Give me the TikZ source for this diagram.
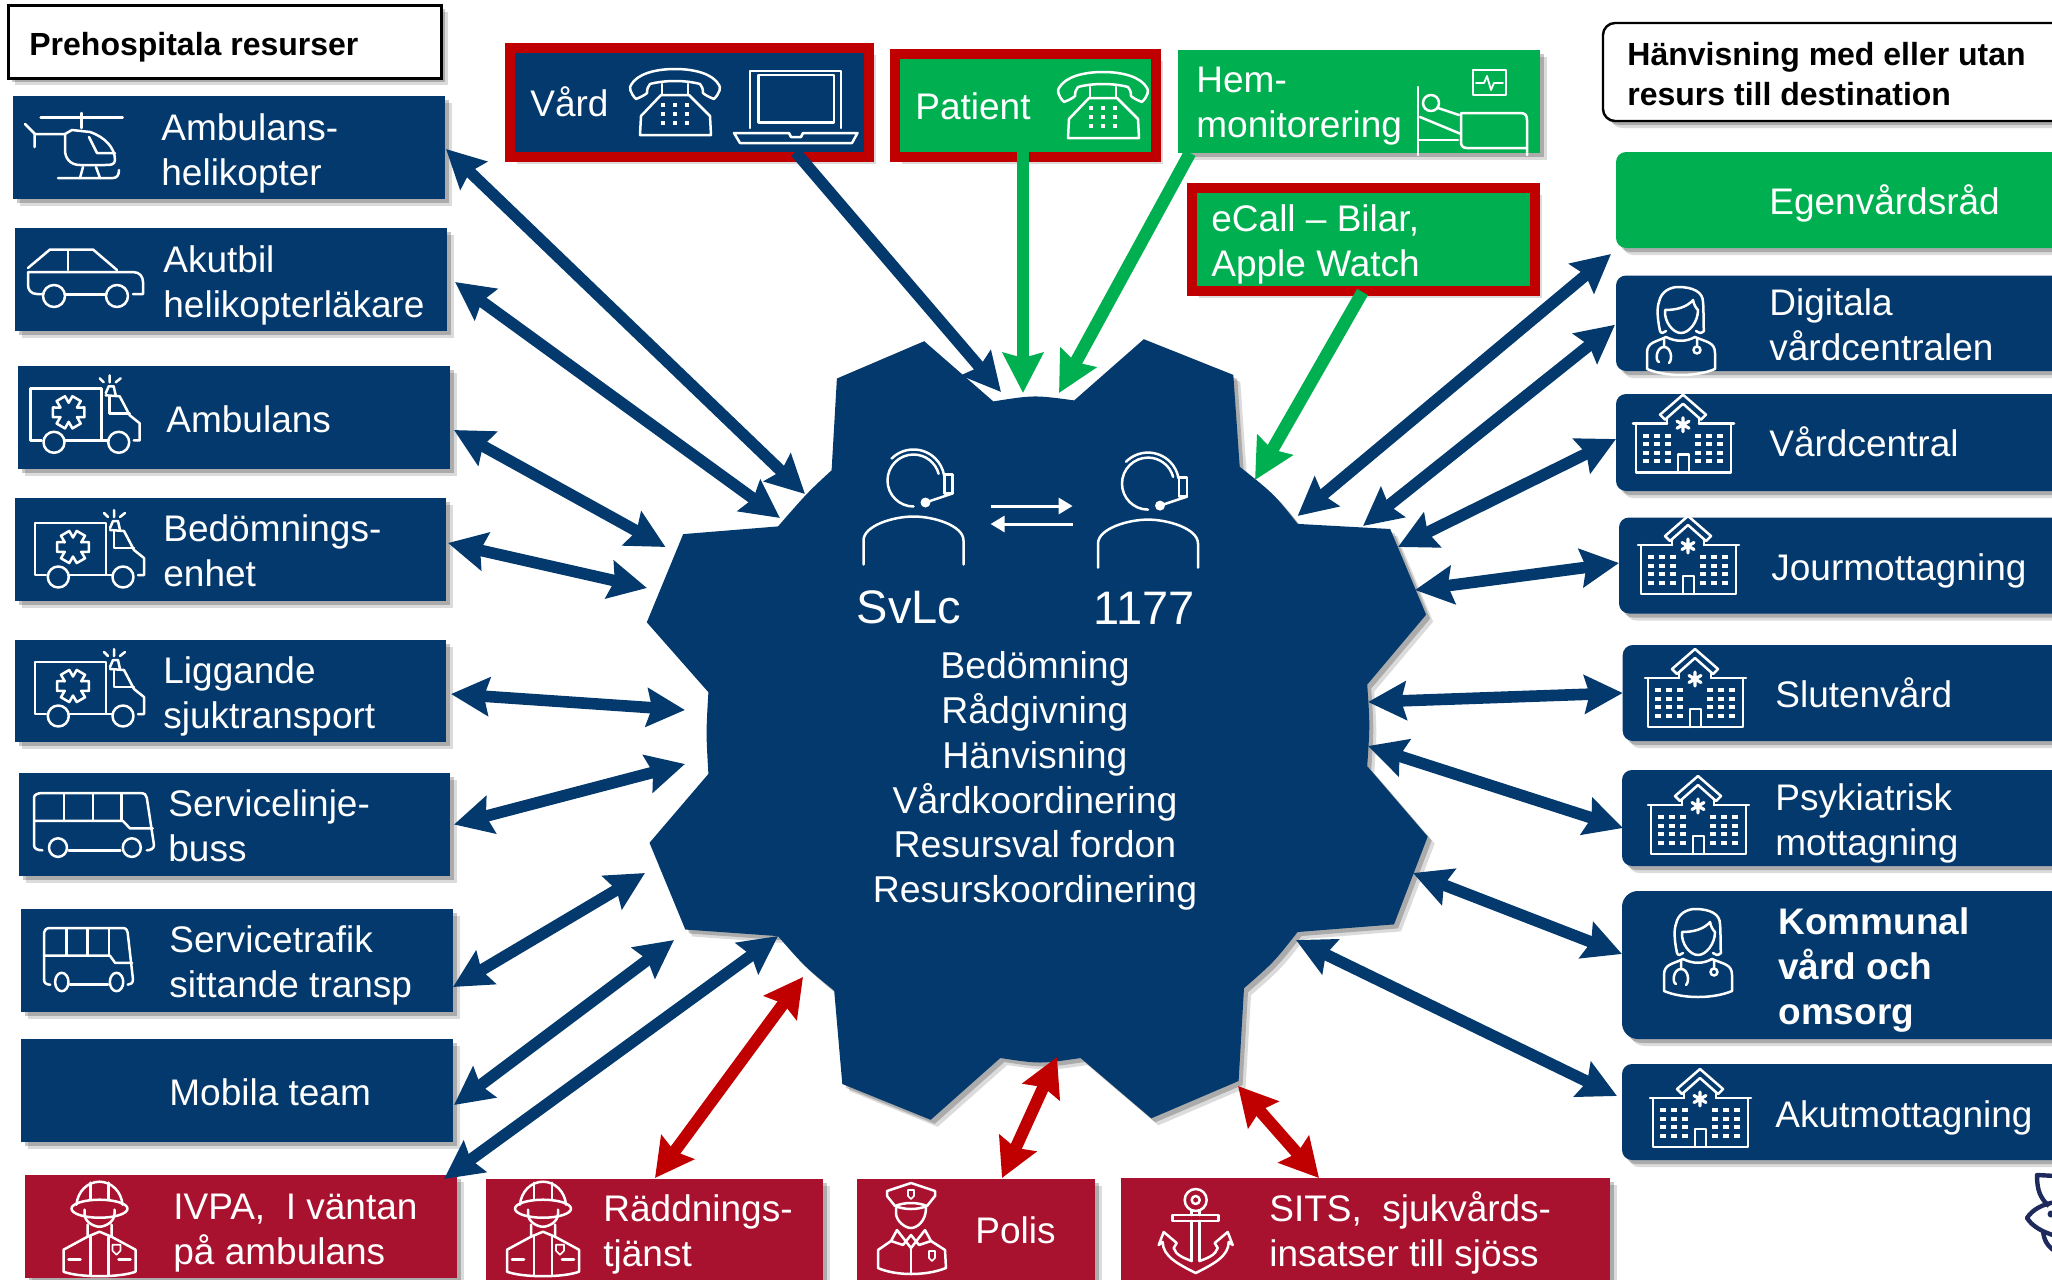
\documentclass[tikz,border=0pt]{standalone}
\usepackage{fontspec}
\setmainfont{Liberation Sans}
\usetikzlibrary{arrows.meta,fit,shadows}
\definecolor{navy}{HTML}{03396C}
\definecolor{grn}{HTML}{00B050}
\definecolor{rd}{HTML}{C00000}
\definecolor{burg}{HTML}{A9122F}
\definecolor{logoc}{HTML}{1F2A5C}
\tikzset{
 softshadow/.style={general shadow={shadow xshift=2pt,shadow yshift=-2pt,fill=black,opacity=.22},
                    general shadow={shadow xshift=3.5pt,shadow yshift=-3.5pt,fill=black,opacity=.14}},
 navybox/.style={fill=navy,softshadow},
 navyround/.style={fill=navy,rounded corners=5pt,softshadow},
 grnbox/.style={fill=grn,softshadow},
 grnround/.style={fill=grn,rounded corners=5pt,softshadow},
 burgbox/.style={fill=burg,softshadow},
 redframe/.style={draw=rd,line width=5pt,softshadow},
 titlebox/.style={fill=white,draw=black,line width=1.5pt,softshadow},
 lbl/.style={text=white,anchor=west,align=left,inner sep=0pt,font=\fontsize{18.5}{22.5}\selectfont},
 lblb/.style={text=black,anchor=west,align=left,inner sep=0pt,font=\fontsize{16}{19.6}\selectfont\bfseries},
 ico/.style={draw=white,line width=1.25pt,line join=round,line cap=round},
 bi/.style={draw=navy,line width=5.8pt,{Stealth[length=19pt,width=19pt,inset=2.5pt]}-{Stealth[length=19pt,width=19pt,inset=2.5pt]}},
 bired/.style={draw=rd,line width=6pt,{Stealth[length=19pt,width=20pt,inset=2.5pt]}-{Stealth[length=19pt,width=20pt,inset=2.5pt]}},
 onenavy/.style={draw=navy,line width=5.8pt,-{Stealth[length=19pt,width=19pt,inset=2.5pt]}},
 onegrn/.style={draw=grn,line width=6.3pt,-{Stealth[length=20pt,width=20pt,inset=2.5pt]}},
 hosp/.pic={
  \draw[ico] (0,0) -- (34,0) (66,0) -- (101,0);
  \draw[ico] (3,0) -- (3,49) -- (98,49) -- (98,0);
  \draw[ico] (45,49) -- (45,31) -- (56,31) -- (56,49);
  \draw[ico] (27,-9) -- (50,-29) -- (73,-9) -- (68,-4) -- (50,-20) -- (32,-4) -- cycle;
  \draw[ico] (34,-5) -- (34,0) (66,-5) -- (66,0);
  \draw[ico,line width=1.6pt] (50,-6) -- (50,8) (44,-2.5) -- (56,4.5) (44,4.5) -- (56,-2.5);
  \foreach \x in {13,24,35,65,76,87}\foreach \y in {12,20.5,29,37.5}
    \fill[white] (\x-2.7,\y-2) rectangle (\x+2.7,\y+2);
 },
 nurse/.pic={
  \draw[ico] (-15,44) .. controls (-17,46) and (-20,47) .. (-21,44) .. controls (-24,30) and (-24,20) .. (-22,15) .. controls (-20,4) and (-10,0) .. (-3,0) .. controls (12,0) and (22,5) .. (22,15) .. controls (23,25) and (22,35) .. (23,44) .. controls (20,47) and (17,46) .. (15,44);
  \draw[ico] (-16,23) .. controls (-4,23) and (6,20) .. (12,13) .. controls (13,18) and (15,21) .. (17,23) .. controls (17,35) and (8,46) .. (0,46) .. controls (-8,46) and (-17,35) .. (-16,23) -- cycle;
  \draw[ico] (-15,50) .. controls (-25,55) and (-34,55) .. (-34,66) -- (-34,82) .. controls (-15,90) and (15,90) .. (34,82) -- (34,66) .. controls (34,55) and (25,55) .. (14,50);
  \draw[ico] (-15,50) .. controls (-5,55) and (5,55) .. (14,50);
  \draw[ico] (-17,52) -- (-17,60) (-22,75) .. controls (-26,74) and (-25,60) .. (-17,60) .. controls (-10,60) and (-8,72) .. (-12,76);
  \draw[ico] (16,52) -- (16,59) (16,63) circle[radius=3.5];
 },
 agent/.pic={
  \draw[ico] (0,26) arc[start angle=90,end angle=345,radius=26];
  \draw[ico] (225:31) arc[start angle=225,end angle=350,radius=31];
  \draw[ico] (31,-6) rectangle (39,13);
  \draw[ico] (39,13) -- (12,22);
  \fill[white] (12,22) circle[radius=5];
  \draw[ico] (-50,84) -- (-50,60) .. controls (-50,45) and (-20,36) .. (0,36) .. controls (20,36) and (50,45) .. (50,60) -- (50,84);
 },
 ambul/.pic={
  \draw[ico] (11,52) -- (0,52) -- (0,0) -- (71,0) -- (71,52) -- (34,52);
  \draw[ico] (23.3,54) circle[radius=10.5] (88,54) circle[radius=10.5];
  \draw[ico] (71,52) -- (77,52);
  \draw[ico] (75,7) -- (89,8) -- (99,27) -- (109,35) -- (109,52) -- (103,52);
  \draw[ico] (79,8) -- (79,25) -- (99,25);
  \draw[ico] (75,5) -- (78,-2) -- (83,-2) -- (85,7);
  \draw[ico] (69,-10) -- (73,-6) (79,-13) -- (79,-6) (90,-10) -- (85,-6);
  \begin{scope}[shift={(38,24)}]
   \draw[ico] (-17:16.5) \foreach \a in {0,60,...,300} { -- (\a-17:16.5) -- (\a+17:16.5) -- (\a+30:9.5)} -- cycle;
  \end{scope}
 },
 bussicon/.pic={
  \draw[ico] (0,56) -- (0,5) .. controls (0,2) and (3,0) .. (7,0) -- (88,0) .. controls (92,0) and (94,2) .. (94,5) -- (100,56) .. controls (100,60) and (97,61.6) .. (94,61.6);
  \draw[ico] (0,56) .. controls (0,60) and (3,61.6) .. (7,61.6);
  \draw[ico] (0,30) -- (74,30) -- (80,38) -- (99,38);
  \draw[ico] (25,1) -- (25,30) (49,1) -- (49,30) (73,1) -- (73,30);
  \draw[ico] (20,58.7) ellipse[x radius=7.5,y radius=10] (81.5,58.7) ellipse[x radius=7.5,y radius=10];
  \draw[ico] (29,61.6) -- (72,61.6);
 },
 fire/.pic={
  \draw[ico] (-23,23) .. controls (-22,10) and (-12,0) .. (0,0) .. controls (12,0) and (22,10) .. (23,23);
  \draw[ico] (-9,1) -- (-9,18) (9,1) -- (9,18);
  \draw[ico] (0,27) ellipse[x radius=28,y radius=9];
  \draw[ico] (-15,28) -- (-15,32) .. controls (-15,40) and (-6,45) .. (0,45) .. controls (6,45) and (15,40) .. (15,32) -- (15,28);
  \draw[ico] (-12,43) -- (-12,55) -- (-36,68) -- (-36,90) .. controls (-20,96) and (20,96) .. (36,90) -- (36,68) -- (12,55) -- (12,43);
  \draw[ico] (-12,55) -- (0,50) -- (12,55);
  \draw[ico] (-9,55) -- (-9,94) (9,55) -- (9,94);
  \draw[ico] (-31,78) -- (-19,78) (19,78) -- (31,78);
  \draw[ico,line width=.8pt] (13,63) -- (21,63) -- (21,69) -- (17,73) -- (13,69) -- cycle;
 },
 police/.pic={
  \draw[ico] (0,0) -- (24,8) -- (24,13) -- (16,23) .. controls (6,27) and (-6,27) .. (-16,23) -- (-24,13) -- (-24,8) -- cycle;
  \draw[ico] (-16,23) .. controls (-6,19) and (6,19) .. (16,23);
  \draw[ico,line width=.8pt] (-3,7) -- (3,7) -- (3,13) -- (0,16) -- (-3,13) -- cycle;
  \draw[ico] (-15,25) -- (-15,30) .. controls (-15,38) and (-6,45) .. (0,45) .. controls (6,45) and (15,38) .. (15,25);
  \draw[ico] (-14,47) -- (0,65) -- (14,47) (-14,47) -- (-20,58) -- (-8,62) -- (0,52) -- (8,62) -- (20,58) -- (14,47);
  \draw[ico] (-20,58) -- (-33,67) -- (-33,85) .. controls (-15,93) and (15,93) .. (35,85) -- (34,67) -- (20,58);
  \draw[ico] (0,65) -- (0,90);
  \draw[ico,line width=.8pt] (18,68) -- (24,68) -- (24,75) -- (21,78) -- (18,75) -- cycle;
 },
 anchoricon/.pic={
  \draw[ico] (0,10) circle[radius=11] (0,10) circle[radius=4];
  \draw[ico] (-23,25) rectangle (23,31);
  \draw[ico] (-4,21) -- (-4,25) (4,21) -- (4,25) (-4,31) -- (-4,71) (4,31) -- (4,71);
  \draw[ico] (-4,71) .. controls (-12,68) and (-20,65) .. (-22,58) -- (-19,53) -- (-32,42) -- (-37,55) -- (-33,52) .. controls (-33,66) and (-18,74) .. (0,83) .. controls (18,74) and (33,66) .. (33,52) -- (37,55) -- (32,42) -- (19,53) -- (22,58) .. controls (20,65) and (12,68) .. (4,71);
 },
 phone/.pic={
  \draw[ico] (-39,30) .. controls (-45,24) and (-46,18) .. (-44,16) .. controls (-38,5) and (-20,0) .. (0,0) .. controls (20,0) and (38,5) .. (44,16) .. controls (46,18) and (45,24) .. (39,30) .. controls (34,28) and (30,26) .. (28,24) .. controls (28,20) and (27,17) .. (25,15) .. controls (10,11) and (-10,11) .. (-25,15) .. controls (-27,17) and (-28,20) .. (-28,24) .. controls (-30,26) and (-34,28) .. (-39,30) -- cycle;
  \draw[ico] (-13,15) -- (-13,26) (13,15) -- (13,26);
  \draw[ico] (-35,66) -- (36,66) -- (35,47) -- (14,26) -- (-14,26) -- (-34,47) -- cycle;
  \foreach \x in {-12,0,12}\foreach \y in {36,45,54}
    \fill[white] (\x-2,\y-2.2) rectangle (\x+2,\y+2.2);
 }
}
% box: name, style, x1, y1, x2, y2, text x, text y, text
\newcommand\bx[9]{\node[#2,fit={(#3,#4)(#5,#6)},inner sep=0pt,outer sep=0pt] (#1) {};
  \node[lbl] (#1T) at (#7,#8) {#9};}
\begin{document}
\begin{tikzpicture}[x=0.5pt,y=-0.5pt]
\useasboundingbox (0,0) rectangle (2052,1280);
\clip (0,0) rectangle (2052,1280);

% central gear
\path[fill=navy,softshadow] (924.2,341.2) -- (836.9,378.5) -- (831.6,470.3)
 .. controls (808,492) .. (778,526.4) -- (683.2,534.1) -- (646.8,622.3) -- (708.4,692.2)
 .. controls (706,733) .. (708.4,773.9) -- (649.5,842.8) -- (685.3,929.5) -- (778,936.1)
 .. controls (804,966) .. (834.2,990.7) -- (842.3,1084) -- (930.7,1119.8) -- (1000.3,1058)
 .. controls (1040,1064) .. (1080.6,1058) -- (1151.3,1118.3) -- (1238.6,1081) -- (1244,988.2)
 .. controls (1274,962) .. (1297.6,932) -- (1394,924.4) -- (1427.7,836.6) -- (1367.2,766.2)
 .. controls (1370,725) .. (1367.2,684.6) -- (1426.1,614.7) -- (1390.2,529) -- (1297.6,523.9)
 .. controls (1274,494) .. (1239.7,466.7) -- (1233.3,374.9) -- (1143.8,339.2) -- (1074.2,400.4)
 .. controls (1034,395) .. (993.3,401.4) -- cycle;

% hub ports (named free ends)
\coordinate (h1) at (805,494);
\coordinate (h2) at (780,518);
\coordinate (h3) at (665.5,547);
\coordinate (h4) at (647,588);
\coordinate (h5) at (685,710);
\coordinate (h6) at (685,764);
\coordinate (h7) at (645,873);
\coordinate (h8) at (674,940);
\coordinate (h9) at (778,936);
\coordinate (h10) at (803,977);
\coordinate (h11) at (1057,1057);
\coordinate (h12) at (1238,1086);
\coordinate (t1) at (1001,392);
\coordinate (t2) at (1023,393);
\coordinate (t3) at (1059,393);
\coordinate (t4) at (1255,480);
\coordinate (r1) at (1297.6,516);
\coordinate (r2) at (1363,526);
\coordinate (r3) at (1398,547);
\coordinate (r4) at (1415,590);
\coordinate (r5) at (1368,702);
\coordinate (r6) at (1368,746);
\coordinate (r7) at (1413,873);
\coordinate (r8) at (1296,940);

% central texts and icons
\pic at (913.5,480.5) {agent};
\pic at (1148,483.6) {agent};
\coordinate (sw1) at (990.6,506);
\coordinate (sw2) at (1072.6,506);
\coordinate (sw3) at (1072.6,524);
\coordinate (sw4) at (990.6,524);
\draw[draw=white,line width=1.5pt,-{Triangle[length=7pt,width=8pt]}] (sw1) -- (sw2);
\draw[draw=white,line width=1.5pt,-{Triangle[length=7pt,width=8pt]}] (sw3) -- (sw4);
\node[text=white,inner sep=0pt,font=\fontsize{23.5}{27}\selectfont] (svlc) at (909,607) {SvLc};
\node[text=white,inner sep=0pt,font=\fontsize{23.5}{27}\selectfont] (n1177) at (1144,608) {1177};
\node[text=white,inner sep=0pt,align=center,font=\fontsize{18.7}{22.4}\selectfont] (tasks) at (1035,781)
 {Bedömning\\Rådgivning\\Hänvisning\\Vårdkoordinering\\Resursval fordon\\Resurskoordinering};

% left column
\node[titlebox,fit={(8,5)(441,78)},inner sep=0pt,outer sep=0pt] (pre) {};
\node[lblb] (preT) at (29,47) {Prehospitala resurser};
\bx{heli}{navybox}{13}{96}{445}{199}{161}{153}{Ambulans-\\helikopter}
\bx{akut}{navybox}{15}{228}{447}{331}{163}{285}{Akutbil\\helikopterläkare}
\bx{amb}{navybox}{18}{366}{450}{469}{166}{419}{Ambulans}
\bx{bed}{navybox}{15}{498}{446}{601}{163}{551}{Bedömnings-\\enhet}
\bx{lig}{navybox}{15}{640}{446}{742}{163}{696}{Liggande\\sjuktransport}
\bx{svl}{navybox}{19}{773}{450}{876}{168}{826}{Servicelinje-\\buss}
\bx{svt}{navybox}{21}{909}{453}{1012}{169}{965}{Servicetrafik\\sittande transp}
\bx{mob}{navybox}{21}{1039}{453}{1142}{169}{1092}{Mobila team}
\bx{ivpa}{burgbox}{25}{1175}{457}{1278}{173}{1233}{IVPA,\ \ I väntan\\på ambulans}
% bottom row
\bx{rad}{burgbox}{486}{1179}{823}{1290}{603}{1234}{Räddnings-\\tjänst}
\bx{pol}{burgbox}{857}{1179}{1095}{1290}{975}{1230}{Polis}
\bx{sits}{burgbox}{1121}{1178}{1610}{1290}{1269}{1233}{SITS,\ \ sjukvårds-\\insatser till sjöss}
% top row
\bx{vard}{fill=navy,redframe}{510}{48}{869}{157}{530}{102}{Vård}
\bx{pat}{fill=grn,redframe}{895}{54}{1156}{157}{915}{106}{Patient}
\bx{hem}{grnbox}{1178}{50}{1540}{153}{1196}{106}{Hem-\\monitorering}
\bx{ecall}{fill=grn,redframe}{1192}{188}{1535}{291}{1211}{244}{eCall – Bilar,\\Apple Watch}
% right column
\node[titlebox,rounded corners=6pt,line width=1.2pt,fit={(1603,23)(2075,121)},inner sep=0pt,outer sep=0pt] (hanv) {};
\node[lblb] (hanvT) at (1627,74) {Hänvisning med eller utan\\resurs till destination};
\bx{ego}{grnround}{1616}{152}{2075}{248}{1769}{203}{Egenvårdsråd}
\bx{dig}{navyround}{1616}{275.5}{2075}{371}{1769}{324.6}{Digitala\\vårdcentralen}
\bx{vc}{navyround}{1616}{394}{2075}{491}{1769}{442}{Vårdcentral}
\bx{jour}{navyround}{1619}{517.5}{2075}{613.5}{1771}{571}{Jourmottagning}
\bx{slut}{navyround}{1622.7}{645}{2075}{741}{1775}{693}{Slutenvård}
\bx{psy}{navyround}{1622}{770}{2075}{866}{1775}{823}{Psykiatrisk\\mottagning}
\bx{kom}{navyround,rounded corners=8pt}{1622}{891}{2075}{1039}{1778}{970}{\bfseries Kommunal\\\bfseries vård och\\\bfseries omsorg}
\bx{akm}{navyround}{1622}{1064}{2075}{1160}{1775}{1118}{Akutmottagning}

% icons: left
\begin{scope}[shift={(0,0)}]
 \draw[ico] (40.7,117.3) -- (122.7,117.3) (81.3,113) -- (81.3,128);
 \draw[ico] (72,130) -- (90,132) .. controls (105,137) and (115,148) .. (115,160) .. controls (115,165) and (110,165) .. (105,165) -- (80,165) .. controls (70,165) and (65,158) .. (65,150) -- (65,134) -- (72,130);
 \draw[ico] (25,124) -- (35,134) -- (65,134) (34.5,134) -- (34.5,147);
 \draw[ico] (89,137) -- (97,153) -- (115,153);
 \draw[ico] (58,178) -- (113,178) .. controls (117,178) and (119,175) .. (119,170);
 \draw[ico] (83,167) -- (80,178) (96,167) -- (100,178);
\end{scope}
\begin{scope}
 \draw[ico] (28,268) -- (50,249.5) -- (93,249.5) -- (117,270);
 \draw[ico] (68,251) -- (68,270);
 \draw[ico] (42,294) -- (37,294) .. controls (31,294) and (28,290) .. (28,285) -- (28,272) -- (133,272) .. controls (140,272) and (143,277) .. (143,282) -- (143,294) -- (133,294);
 \draw[ico] (54,296) circle[radius=11] (117,296) circle[radius=11];
 \draw[ico] (66,294.7) -- (105,294.7);
\end{scope}
\pic at (30.7,388.3) {ambul};
\pic at (35,523) {ambul};
\pic at (35,662) {ambul};
\pic[xscale=1.2,yscale=.93] at (34,793) {bussicon};
\pic[xscale=.89,yscale=.92] at (44,928) {bussicon};
\pic at (99.5,1181.7) {fire};
\pic at (543,1181.7) {fire};
\pic at (911,1183) {police};
\pic at (1195.7,1190) {anchoricon};
% icons: top
\pic at (675,69) {phone};
\pic at (1103,72) {phone};
\draw[ico] (750,128) -- (750,71) -- (841,71) -- (841,128);
\draw[ico] (758.6,75) rectangle (834,122.7);
\draw[ico] (734,133) -- (789,133) -- (791,137) -- (801,137) -- (803,133) -- (857.5,133) -- (852,143) -- (740,143) -- cycle;
% bed and monitor
\draw[ico] (1473,70) rectangle (1506,95);
\draw[ico,line width=.9pt] (1476,83) -- (1484,83) -- (1487,76) -- (1491,90) -- (1494,83) -- (1503,83);
\draw[ico] (1418,87) -- (1418,155) (1418,140) -- (1458,140);
\draw[ico] (1431,103) circle[radius=8];
\draw[ico] (1420,117) -- (1461,134) (1438,108) -- (1459,115);
\draw[ico] (1461,113) -- (1520,113) .. controls (1525,113) and (1527,115) .. (1527,120) -- (1527,155) (1461,113) -- (1461,142) .. controls (1461,146) and (1463,148) .. (1467,148) -- (1527,148);
% icons: right
\pic at (1681,287) {nurse};
\pic at (1698,909) {nurse};
\pic at (1633,423.7) {hosp};
\pic at (1638,545) {hosp};
\pic at (1645,678) {hosp};
\pic at (1648,805) {hosp};
\pic at (1650,1098) {hosp};

% logo fragment
\draw[logoc,line width=2.2pt,line join=round] (2056,1176) -- (2037,1175) .. controls (2037,1190) and (2040,1198) .. (2049,1206);
\draw[logoc,line width=2.2pt,line join=round] (2056,1202) .. controls (2042,1204) and (2032,1210) .. (2027,1218) .. controls (2032,1226) and (2042,1232) .. (2056,1236);
\draw[logoc,line width=2.2pt,line join=round] (2043,1231) .. controls (2044,1240) and (2047,1246) .. (2056,1252);
\fill[logoc] (2051,1214) circle[radius=3.5];

% connectors
\draw[bi] ([shift={(1,1.5)}]heli.east) -- (h1);
\draw[bi] ([shift={(8,2.5)}]akut.east) -- (h2);
\draw[bi] ([shift={(4,12.5)}]amb.east) -- (h3);
\draw[bi] ([shift={(2,-6.5)}]bed.east) -- (h4);
\draw[bi] ([shift={(5,3)}]lig.east) -- (h5);
\draw[bi] ([shift={(4,0)}]svl.east) -- (h6);
\draw[bi] ([shift={(0,26.5)}]svt.east) -- (h7);
\draw[bi] ([shift={(1,14.5)}]mob.east) -- (h8);
\draw[bi] ([shift={(-13,4)}]ivpa.north east) -- (h9);
\draw[bired] ([shift={(.5,-1)}]rad.north) -- (h10);
\draw[bired] ([shift={(26,-1)}]pol.north) -- (h11);
\draw[bired] ([shift={(-46.5,0)}]sits.north) -- (h12);
\draw[onenavy] ([shift={(106,-5)}]vard.south) -- (t1);
\draw[onegrn] ([shift={(-2.5,-5)}]pat.south) -- (t2);
\draw[onegrn] ([shift={(12,0)}]hem.south west) -- (t3);
\draw[onegrn] ([shift={(-1,1)}]ecall.south) -- (t4);
\draw[bi] ([shift={(-5,6)}]ego.south west) -- (r1);
\draw[bi] ([shift={(-1,1.5)}]dig.west) -- (r2);
\draw[bi] ([shift={(0,-3.5)}]vc.west) -- (r3);
\draw[bi] ([shift={(0,-2.5)}]jour.west) -- (r4);
\draw[bi] (slut.west) -- (r5);
\draw[bi] ([shift={(1,10)}]psy.west) -- (r6);
\draw[bi] ([shift={(0,-11)}]kom.west) -- (r7);
\draw[bi] ([shift={(-5,-16)}]akm.west) -- (r8);
\end{tikzpicture}
\end{document}
